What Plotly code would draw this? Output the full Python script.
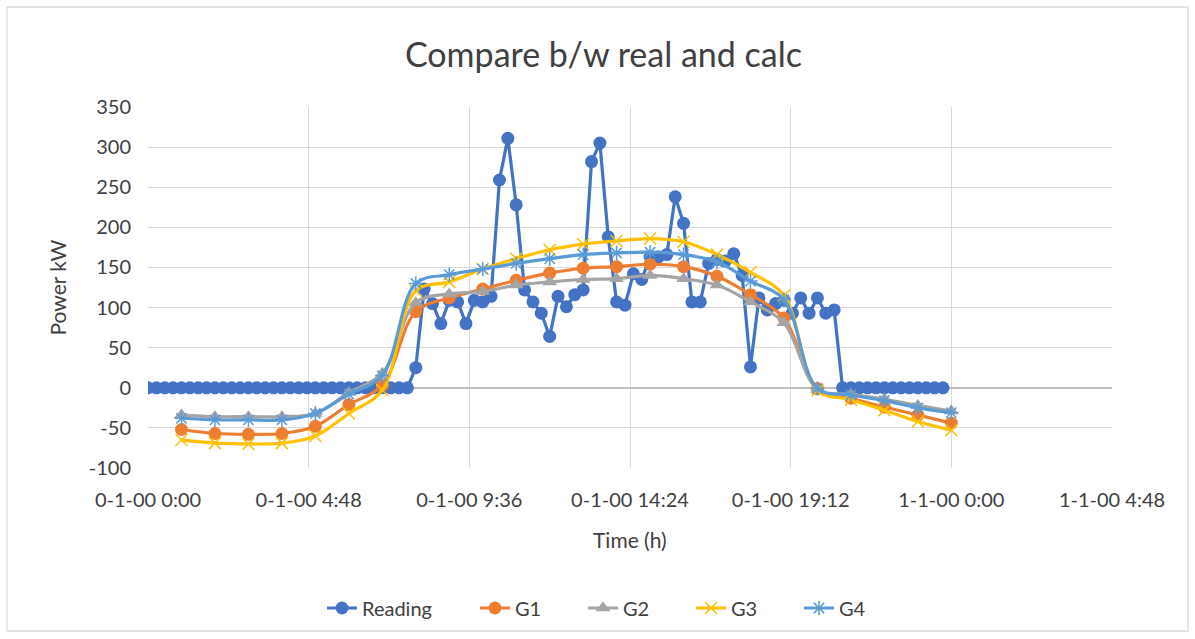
import plotly.graph_objects as go

# ---- data ----
reading = [0]*32 + [25, 123, 105, 80, 109, 107, 80, 109, 107, 114, 259, 311, 228, 122, 107, 93, 64,
           114, 101, 116, 122, 282, 305, 188, 107, 103, 142, 135, 163, 163, 166, 238, 205, 107,
           107, 155, 160, 158, 167, 140, 26, 112, 97, 105, 109, 93, 112, 93, 112, 93, 97] + [0]*13
reading_x = [i / 96 for i in range(len(reading))]

hours = list(range(1, 25))
g_x = [h / 24 for h in hours]
g1 = [-52, -57, -58, -57, -48, -21, 3, 95, 112, 123, 134, 143, 149, 151, 154, 151, 139, 116, 87, -1, -13, -24, -34, -44]
g2 = [-34, -36, -36, -36, -32, -6, 18, 106, 117, 120, 128, 132, 135, 136, 140, 136, 128, 107, 81, -2, -8, -14, -22, -29]
g3 = [-65, -69, -70, -69, -60, -32, -3, 121, 132, 148, 161, 172, 179, 183, 186, 182, 166, 144, 115, -3, -15, -28, -42, -53]
g4 = [-38, -40, -40, -40, -32, -8, 15, 130, 141, 148, 155, 161, 166, 168, 169, 166, 157, 133, 110, -1, -9, -16, -25, -31]

x_tickvals = [0, 0.2, 0.4, 0.6, 0.8, 1.0, 1.2]
x_ticktext = ["0-1-00 0:00", "0-1-00 4:48", "0-1-00 9:36", "0-1-00 14:24",
              "0-1-00 19:12", "1-1-00 0:00", "1-1-00 4:48"]
y_tickvals = [-100, -50, 0, 50, 100, 150, 200, 250, 300, 350]
y_ticktext = ["-100", "-50", "0", "50", "100", "150", "200", "250", "300", "350"]

FONT = "Lato"
TXT = "#404040"

fig = go.Figure()
fig.add_trace(go.Scatter(x=reading_x, y=reading, name="Reading", mode="lines+markers",
                         line=dict(color="#4472C4", width=3.2),
                         marker=dict(symbol="circle", size=13, color="#4472C4"),
                         legend="legend"))
fig.add_trace(go.Scatter(x=g_x, y=g1, name="G1", mode="lines+markers",
                         line=dict(color="#ED7D31", width=3.2, shape="spline"),
                         marker=dict(symbol="circle", size=13, color="#ED7D31"),
                         legend="legend2"))
fig.add_trace(go.Scatter(x=g_x, y=g2, name="G2", mode="lines+markers",
                         line=dict(color="#A5A5A5", width=3.2, shape="spline"),
                         marker=dict(symbol="triangle-up", size=13, color="#A5A5A5"),
                         legend="legend2"))
fig.add_trace(go.Scatter(x=g_x, y=g3, name="G3", mode="lines+markers",
                         line=dict(color="#FFC000", width=3.2, shape="spline"),
                         marker=dict(symbol="x-thin-open", size=12, color="#FFC000",
                                     line=dict(color="#FFC000", width=1.5)),
                         legend="legend2"))
fig.add_trace(go.Scatter(x=g_x, y=g4, name="G4", mode="lines+markers",
                         line=dict(color="#5B9BD5", width=3.2, shape="spline"),
                         marker=dict(symbol="asterisk-open", size=12, color="#5B9BD5",
                                     line=dict(color="#5B9BD5", width=1.5)),
                         legend="legend2"))

LEG_Y = (468 - 608) / 361
fig.update_layout(
    width=1195, height=639,
    paper_bgcolor="white", plot_bgcolor="white",
    margin=dict(l=148, r=83, t=107, b=171),
    font=dict(family=FONT, color=TXT, size=20),
    title=dict(text="Compare b/w real and calc", x=0.505, xanchor="center",
               y=1 - 55 / 639, yanchor="middle",
               font=dict(family=FONT, size=34, color=TXT)),
    xaxis=dict(range=[0, 1.2], tickvals=x_tickvals, ticktext=x_ticktext,
               showgrid=True, gridcolor="#D9D9D9", gridwidth=1.3, zeroline=False,
               showline=False, ticks="outside", ticklen=14, tickcolor="rgba(0,0,0,0)",
               tickfont=dict(size=20, color=TXT)),
    yaxis=dict(range=[-100, 350], tickvals=y_tickvals, ticktext=y_ticktext,
               showgrid=True, gridcolor="#D9D9D9", gridwidth=1.3,
               zeroline=True, zerolinecolor="#BFBFBF", zerolinewidth=1.6,
               showline=False, ticks="outside", ticklen=12, tickcolor="rgba(0,0,0,0)",
               tickfont=dict(size=20, color=TXT)),
    legend=dict(orientation="h", x=(322 - 148) / 964, xanchor="left", y=LEG_Y, yanchor="middle",
                font=dict(size=20, color=TXT), itemwidth=30),
    legend2=dict(orientation="h", x=(475 - 148) / 964, xanchor="left", y=LEG_Y, yanchor="middle",
                 font=dict(size=20, color=TXT), itemwidth=30,
                 entrywidth=63, entrywidthmode="pixels"),
    showlegend=True,
)

fig.add_annotation(text="Power kW", xref="paper", yref="paper", x=-0.0934, y=0.5,
                   textangle=-90, showarrow=False, xanchor="center", yanchor="middle",
                   font=dict(family=FONT, size=21, color=TXT))
fig.add_annotation(text="Time (h)", xref="paper", yref="paper", x=0.5, y=-0.199,
                   showarrow=False, xanchor="center", yanchor="middle",
                   font=dict(family=FONT, size=21, color=TXT))

# outer chart border
fig.add_shape(type="rect", xref="paper", yref="paper",
              x0=(7 - 148) / 964, x1=(1188 - 148) / 964,
              y0=(468 - 631) / 361, y1=(468 - 7) / 361,
              line=dict(color="#D9D9D9", width=1.3), fillcolor="rgba(0,0,0,0)", layer="below")

fig.write_html("out.html", config={"displayModeBar": False},
               post_script="document.body.style.margin='0px';")
